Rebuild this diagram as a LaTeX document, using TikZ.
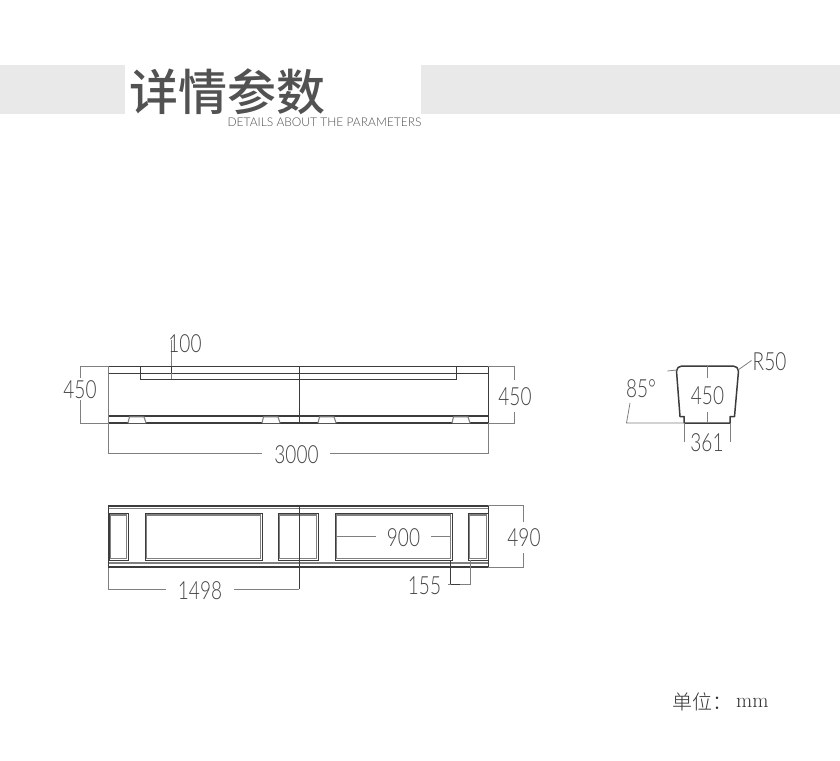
\documentclass[tikz,border=0pt]{standalone}
\usepackage{fontspec}
\setmainfont{Lato}
\newfontfamily\dimfont[FakeStretch=0.76]{Lato Light}
\newfontfamily\subfont{Lato Light}
\newfontfamily\cjkbold{Noto Sans CJK SC Medium}
\newfontfamily\cjklight{Noto Sans CJK SC Light}
\newfontfamily\lmfont{Latin Modern Roman}
\definecolor{band}{HTML}{E9E9E9}
\definecolor{ink}{HTML}{3C3C3C}
\definecolor{dimline}{HTML}{808080}
\definecolor{dimtext}{HTML}{444444}
\tikzset{
    part/.style={draw=ink, line width=0.9pt},
    heavy/.style={draw=ink, line width=1.5pt},
    soft/.style={draw=dimline, line width=1.1pt},
    dimen/.style={draw=dimline, line width=0.8pt},
    dimlabel/.style={inner sep=0pt, text=dimtext, font=\dimfont\fontsize{25}{25}\selectfont},
}
\begin{document}
\begin{tikzpicture}[x=1pt, y=-1pt]
    \useasboundingbox (0,0) rectangle (840,760);
    % header
    \fill[band] (0,65) rectangle (125,113.5);
    \fill[band] (421,65) rectangle (840,113.5);
    \node[inner sep=0pt, text=black!68, font=\cjkbold\fontsize{49}{49}\selectfont] (title) at (227,91.5) {详情参数};
    \node[inner sep=0pt, text=black!70, font=\subfont\fontsize{12}{12}\selectfont] (subtitle) at (324.5,122) {DETAILS ABOUT THE PARAMETERS};
    % top view
    \draw[part] (108.5,366) rectangle (488,423);
    \draw[heavy, draw=dimline] (108.5,366) -- (108.5,423);
    \draw[part] (108.5,373) -- (488,373);
    \draw[part] (140,366) -- (140,379) -- (456.5,379) -- (456.5,366);
    \draw[part] (299,366) -- (299,423);
    \draw[heavy] (108.5,416) -- (488,416);
    \draw[heavy] (108.5,423) -- (488,423);
    \foreach \footx in {128,262,318,452} {
        \draw[soft, fill=white] (\footx,423) -- (\footx+1.5,416.8) -- (\footx+16,416.8) -- (\footx+18,423);
    }
    \draw[dimen] (171.5,340) -- (171.5,379);
    \draw[part] (171.5,366) -- (171.5,373);
    \node[dimlabel] (cent) at (185,343.5) {100};
    \draw[dimen] (108.5,366) -- (80,366) -- (80,378);
    \draw[dimen] (108.5,423) -- (80,423) -- (80,400);
    \node[dimlabel] (heighta) at (80,389.5) {450};
    \draw[dimen] (488,366) -- (514,366) -- (514,380);
    \draw[dimen] (488,423) -- (514,423) -- (514,412);
    \node[dimlabel] (heightb) at (515,396.5) {450};
    \draw[dimen] (108.5,423) -- (108.5,453.5) -- (262,453.5);
    \draw[dimen] (488.5,423) -- (488.5,453.5) -- (330,453.5);
    \node[dimlabel] (length) at (296.5,455) {3000};
    % end view
    \draw[heavy, line join=round] (684,423) -- (684,416.5) -- (680,416.5) -- (676.5,371) .. controls (676.5,368) and (679,366) .. (682,366) -- (733,366) .. controls (736,366) and (738.5,368) .. (738.5,371) -- (734.5,416.5) -- (730,416.5) -- (730,423) -- cycle;
    \draw[dimen] (707,366) -- (707,378);
    \draw[dimen] (707,412) -- (707,423);
    \node[dimlabel] (depth) at (707.5,396) {450};
    \draw[dimen] (684,423) -- (684,441.5);
    \draw[dimen] (730,423) -- (730,441.5);
    \node[dimlabel] (foot) at (707,443) {361};
    \draw[dimen] (630,403) -- (626.5,423) -- (684,423);
    \draw[dimen] (667.5,371) -- (677,370);
    \node[dimlabel] (angle) at (641,389) {85°};
    \draw[dimen] (738,370) -- (751.5,360.5);
    \node[dimlabel] (radius) at (769.5,362) {R50};
    % bottom view
    \draw[part] (108.5,505.5) rectangle (488,567.5);
    \draw[heavy] (108.5,506) -- (488,506);
    \draw[soft] (108.5,508.5) -- (488,508.5);
    \draw[soft] (108.5,563) -- (488,563);
    \draw[heavy] (108.5,567) -- (488,567);
    \foreach \panelA/\panelB in {109/128,145/262,278/318,335/452,468/488} {
        \draw[part] (\panelA,513.5) rectangle (\panelB,560);
        \draw[soft] (\panelA+1.2,515) rectangle (\panelB-1.2,558.5);
    }
    \draw[part] (299,505.5) -- (299,589);
    \draw[dimen] (108.5,567.5) -- (108.5,589) -- (166,589);
    \draw[dimen] (298.5,589) -- (234,589);
    \node[dimlabel] (half) at (200,591) {1498};
    \draw[dimen] (337,536.5) -- (376,536.5);
    \draw[dimen] (431,536.5) -- (451,536.5);
    \node[dimlabel] (panel) at (403.5,538) {900};
    \draw[part] (450.5,560) -- (450.5,584) -- (460,584);
    \draw[dimen] (460,584) -- (470.5,584) -- (470.5,560);
    \draw[dimen] (448,584) -- (451,584);
    \node[dimlabel] (gap) at (424.5,586) {155};
    \draw[dimen] (488,505.5) -- (523,505.5) -- (523,522);
    \draw[dimen] (488,567.5) -- (523,567.5) -- (523,553);
    \node[dimlabel] (width) at (524,538) {490};
    % unit
    \node[inner sep=0pt, anchor=west, text=black!80, font=\cjklight\fontsize{20}{20}\selectfont] (unit) at (672,701.5) {单位：};
    \node[inner sep=0pt, anchor=west, text=black!80, font=\lmfont\fontsize{21}{21}\selectfont] (mm) at (736,703) {mm};
\end{tikzpicture}
\end{document}
